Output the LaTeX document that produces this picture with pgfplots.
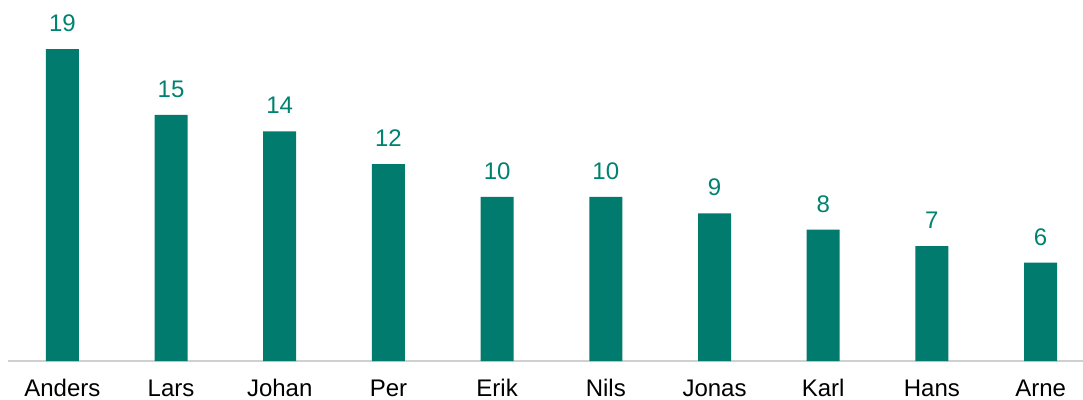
\documentclass[border=0pt]{standalone}
\usepackage{fontspec}
\setmainfont{Liberation Sans}
\usepackage{pgfplots}
\pgfplotsset{compat=1.18}
\definecolor{barteal}{RGB}{0,123,110}
\definecolor{labteal}{RGB}{0,130,112}
\definecolor{basegray}{RGB}{208,208,208}
\begin{document}
\begin{tikzpicture}
\useasboundingbox (-6pt,-29.25pt) rectangle (806.25pt,270.75pt);
\begin{axis}[
  at={(0,0)}, anchor=south west,
  scale only axis,
  width=806.25pt, height=270.75pt,
  xmin=-0.5, xmax=9.39,
  ymin=0, ymax=22,
  axis y line=none,
  axis x line*=bottom,
  x axis line style={draw=basegray, line width=0.9pt, -},
  major tick length=0pt,
  /pgf/number format/assume math mode=true,
  xtick=data,
  xticklabels={Anders,Lars,Johan,Per,Erik,Nils,Jonas,Karl,Hans,Arne},
  xticklabel style={anchor=base, yshift=-26.5pt, font=\fontsize{18}{21}\selectfont, text=black},
  ybar, bar width=24.75pt,
  nodes near coords,
  nodes near coords style={anchor=base, yshift=13pt, font=\fontsize{18}{21}\selectfont, text=labteal},
  clip=false,
]
\addplot[fill=barteal, draw=none] coordinates {
(0,19) (1,15) (2,14) (3,12) (4,10) (5,10) (6,9) (7,8) (8,7) (9,6)
};
\end{axis}
\end{tikzpicture}
\end{document}
